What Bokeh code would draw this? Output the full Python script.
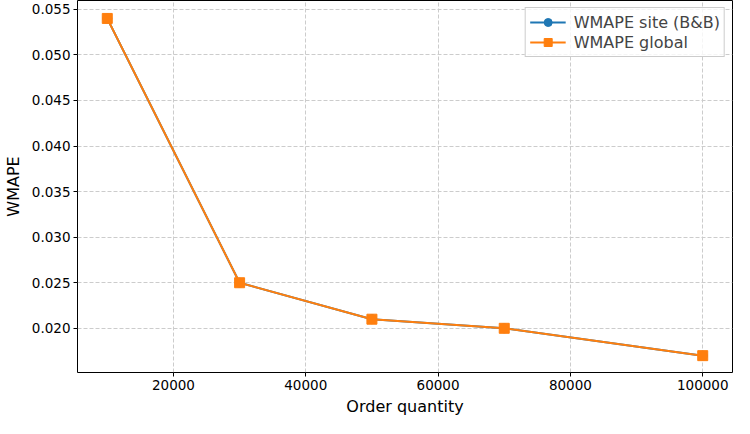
from bokeh.plotting import figure
from bokeh.embed import file_html
from bokeh.resources import INLINE
from bokeh.models import Range1d, NumeralTickFormatter, FixedTicker

order_qty = [10000, 30000, 50000, 70000, 100000]
wmape_site = [0.054, 0.025, 0.021, 0.020, 0.017]
wmape_global = [0.054, 0.025, 0.021, 0.020, 0.017]
x_ticks = [20000, 40000, 60000, 80000, 100000]
y_ticks = [0.020, 0.025, 0.030, 0.035, 0.040, 0.045, 0.050, 0.055]

p = figure(width=734, height=418, output_backend="svg", toolbar_location=None,
           x_range=Range1d(5500, 104500), y_range=Range1d(0.01515, 0.05597),
           min_border_left=65, min_border_right=2, min_border_top=0, min_border_bottom=36)

FONT = "DejaVu Sans"
blue = "#1f77b4"
orange = "#ff7f0e"

p.line(order_qty, wmape_site, line_color=blue, line_width=2, legend_label="WMAPE site (B&B)")
p.scatter(order_qty, wmape_site, marker="circle", size=9, fill_color=blue, line_color=blue,
          legend_label="WMAPE site (B&B)")
p.line(order_qty, wmape_global, line_color=orange, line_width=2, legend_label="WMAPE global")
p.scatter(order_qty, wmape_global, marker="square", size=10, fill_color=orange, line_color=orange,
          legend_label="WMAPE global")

p.xaxis.ticker = FixedTicker(ticks=x_ticks)
p.yaxis.ticker = FixedTicker(ticks=y_ticks)
p.xaxis.formatter = NumeralTickFormatter(format="0")
p.yaxis.formatter = NumeralTickFormatter(format="0.000")
p.xaxis.axis_label = "Order quantity"
p.yaxis.axis_label = "WMAPE"
for ax in (p.xaxis, p.yaxis):
    ax.axis_label_text_font = FONT
    ax.axis_label_text_font_size = "16px"
    ax.axis_label_text_font_style = "normal"
    ax.axis_label_text_color = "#000000"
    ax.major_label_text_font = FONT
    ax.major_label_text_font_size = "13.5px"
    ax.major_label_text_color = "#000000"
    ax.axis_line_color = None
    ax.major_tick_line_color = "#000000"
    ax.major_tick_in = 0
    ax.major_tick_out = 4
    ax.minor_tick_line_color = None
p.xaxis.axis_label_standoff = 4
p.yaxis.axis_label_standoff = 6
p.xaxis.major_label_standoff = 3
p.yaxis.major_label_standoff = 3

p.outline_line_color = "#000000"
p.outline_line_width = 1
p.xgrid.grid_line_color = "#cccccc"
p.ygrid.grid_line_color = "#cccccc"
p.xgrid.grid_line_dash = "4 2"
p.ygrid.grid_line_dash = "4 2"

p.legend.location = "top_right"
p.legend.label_text_font = FONT
p.legend.label_text_font_size = "16px"
p.legend.border_line_color = "#cccccc"
p.legend.border_line_alpha = 1
p.legend.background_fill_alpha = 0.8
p.legend.margin = 7
p.legend.padding = 4
p.legend.spacing = 0
p.legend.glyph_width = 36
p.legend.label_standoff = 8

open("out.html", "w").write(file_html(p, INLINE))
